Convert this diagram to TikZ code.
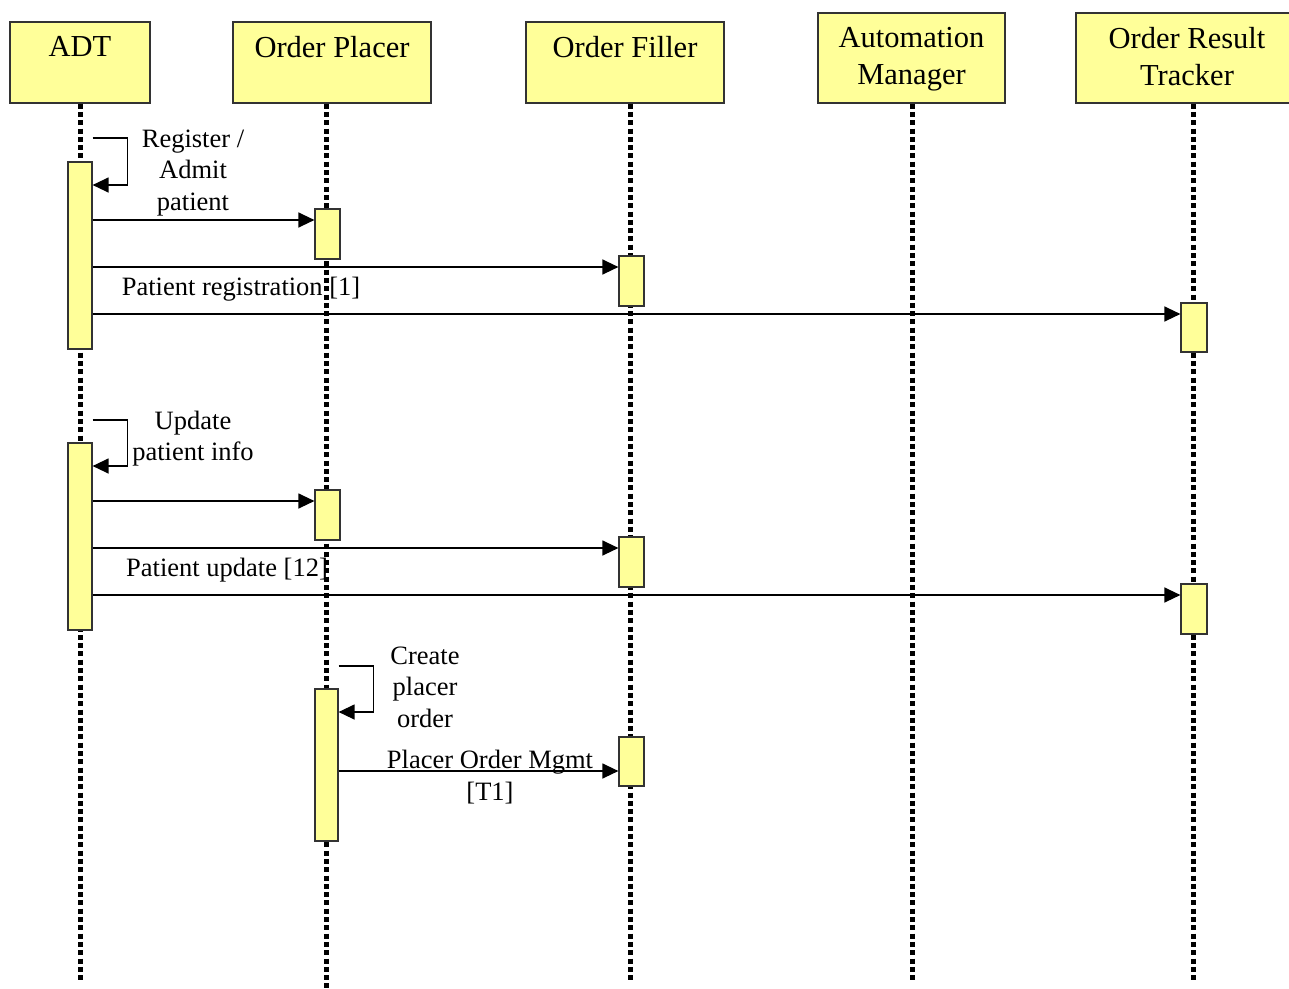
\documentclass[tikz,border=0pt]{standalone}
\usepackage{fontspec}
\setmainfont{Liberation Serif}
\usepackage{tikz}
\usetikzlibrary{arrows.meta, calc}
\definecolor{paleyellow}{RGB}{255,255,153}
\newcommand{\hdrfont}{\fontsize{30.5}{37}\selectfont}
\newcommand{\msgfont}{\fontsize{26.5}{31.5}\selectfont}

\begin{document}
\begin{tikzpicture}[x=1pt, y=-1pt]
      \tikzset{actor/.style = {shape=rectangle, draw=black!80, line width=1.2pt, fill=paleyellow, inner sep=0pt}}
      \tikzset{actorname/.style = {anchor=north, font=\hdrfont, align=center, inner sep=0pt, yshift=-15pt}}
      \tikzset{bar/.style = {shape=rectangle, draw=black!80, line width=1.2pt, fill=paleyellow, inner sep=0pt}}
      \tikzset{life/.style = {line width=5pt, dash pattern=on 5pt off 3.3pt}}
      \tikzset{msg/.style = {line width=1.3pt, -{Triangle[length=16pt, width=15pt]}}}
      \tikzset{msgtext/.style = {font=\msgfont, align=center, inner sep=0pt}}
      \useasboundingbox (0,0) rectangle (1289,988);
      % actors
      \node[actor, minimum width=140pt, minimum height=81pt, label={[actorname]north:ADT}] (adt) at (80, 62.5) {};
      \node[actor, minimum width=198pt, minimum height=81pt, label={[actorname]north:Order Placer}] (op) at (332, 62.5) {};
      \node[actor, minimum width=198pt, minimum height=81pt, label={[actorname]north:Order Filler}] (of) at (625, 62.5) {};
      \node[actor, minimum width=187pt, minimum height=90pt, label={[actorname]north:Automation\\Manager}] (am) at (911.5, 58) {};
      \node[actor, minimum width=222pt, minimum height=90pt, label={[actorname]north:Order Result\\Tracker}] (ort) at (1187, 58) {};
      % lifelines
      \coordinate (adtEnd) at (80, 983);
      \coordinate (opEnd) at (326, 988);
      \coordinate (ofEnd) at (630, 983);
      \coordinate (amEnd) at (912, 983);
      \coordinate (ortEnd) at (1193, 983);
      \draw[life] (adt.south -| adtEnd) -- (adtEnd);
      \draw[life] (op.south -| opEnd) -- (opEnd);
      \draw[life] (of.south -| ofEnd) -- (ofEnd);
      \draw[life] (am.south -| amEnd) -- (amEnd);
      \draw[life] (ort.south -| ortEnd) -- (ortEnd);
      % activations
      \node[bar, minimum width=24pt, minimum height=187pt] (a1) at (80, 255.5) {};
      \node[bar, minimum width=25pt, minimum height=50pt] (p1) at (327.5, 234) {};
      \node[bar, minimum width=25pt, minimum height=50pt] (f1) at (631.5, 281) {};
      \node[bar, minimum width=26pt, minimum height=49pt] (t1) at (1194, 327.5) {};
      \node[bar, minimum width=24pt, minimum height=187pt] (a2) at (80, 536.5) {};
      \node[bar, minimum width=25pt, minimum height=50pt] (p2) at (327.5, 515) {};
      \node[bar, minimum width=25pt, minimum height=50pt] (f2) at (631.5, 562) {};
      \node[bar, minimum width=26pt, minimum height=50pt] (t2) at (1194, 609) {};
      \node[bar, minimum width=23pt, minimum height=152pt] (p3) at (326.5, 765) {};
      \node[bar, minimum width=25pt, minimum height=49pt] (f3) at (631.5, 761.5) {};
      % message rows
      \coordinate (r1) at (0, 138);
      \coordinate (r2) at (0, 185);
      \coordinate (r3) at (0, 220);
      \coordinate (r4) at (0, 267);
      \coordinate (r5) at (0, 314);
      \coordinate (r6) at (0, 420);
      \coordinate (r7) at (0, 466);
      \coordinate (r8) at (0, 501);
      \coordinate (r9) at (0, 548);
      \coordinate (r10) at (0, 595);
      \coordinate (r11) at (0, 666);
      \coordinate (r12) at (0, 712);
      \coordinate (r13) at (0, 771);
      % messages
      \draw[msg] (a1.east |- r1) -- ++(35,0) |- (a1.east |- r2);
      \draw[msg] (a1.east |- r3) -- (p1.west |- r3);
      \draw[msg] (a1.east |- r4) -- (f1.west |- r4);
      \draw[msg] (a1.east |- r5) -- (t1.west |- r5);
      \draw[msg] (a2.east |- r6) -- ++(35,0) |- (a2.east |- r7);
      \draw[msg] (a2.east |- r8) -- (p2.west |- r8);
      \draw[msg] (a2.east |- r9) -- (f2.west |- r9);
      \draw[msg] (a2.east |- r10) -- (t2.west |- r10);
      \draw[msg] (p3.east |- r11) -- ++(35,0) |- (p3.east |- r12);
      \draw[msg] (p3.east |- r13) -- (f3.west |- r13);
      % labels
      \node[msgtext] (admit) at (193, 173) {Register /\\Admit\\patient};
      \node[msgtext] (reg) at (241, 289.5) {Patient registration [1]};
      \node[msgtext] (upd) at (193, 438.5) {Update\\patient info};
      \node[msgtext] (updmsg) at (227, 570) {Patient update [12]};
      \node[msgtext] (create) at (425, 687) {Create\\placer\\order};
      \node[msgtext] (pom) at (490, 777) {Placer Order Mgmt\\{}[T1]};
    \end{tikzpicture}
\end{document}
